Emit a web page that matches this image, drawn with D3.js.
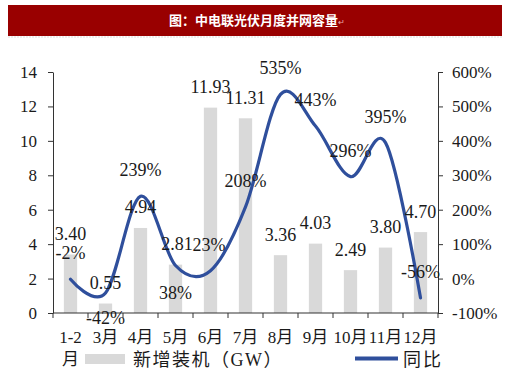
<!DOCTYPE html>
<html><head><meta charset="utf-8">
<script src="https://cdn.jsdelivr.net/npm/d3@7"></script>
<style>
html,body{margin:0;padding:0;background:#fff;}
svg{display:block;}
text{font-family:"Liberation Serif","Times New Roman","Noto Sans CJK SC",serif;fill:#1a1a1a;}
</style></head>
<body>
<svg id="chart" width="520" height="379"></svg>
<script>
const title = "图：中电联光伏月度并网容量";
const categories = ["1-2月","3月","4月","5月","6月","7月","8月","9月","10月","11月","12月"];
const capacity = [3.40,0.55,4.94,2.81,11.93,11.31,3.36,4.03,2.49,3.80,4.70];
const yoy = [-2,-42,239,38,23,208,535,443,296,395,-56];
const leftTicks = [0,2,4,6,8,10,12,14];
const rightTicks = [-100,0,100,200,300,400,500,600];
const seriesNames = ["新增装机（GW）","同比"];

const svg = d3.select("#chart");
const m = {left:53, right:438, top:72, bottom:313};

// title bar
svg.append("rect").attr("x",8).attr("y",5).attr("width",494).attr("height",31).attr("fill","#990000");
svg.append("line").attr("x1",8).attr("x2",502).attr("y1",37).attr("y2",37)
  .attr("stroke","#ddd").attr("stroke-dasharray","2,1");
const tt = svg.append("text").attr("x",257).attr("y",25).attr("text-anchor","middle")
  .style("font-family","'Noto Sans CJK SC',sans-serif").style("font-size","13px").style("font-weight","bold")
  .style("fill","#fff").text(title);
tt.append("tspan").style("font-size","8px").style("font-weight","normal").style("fill","#e8b0b0").text("↵");

const x = d3.scaleBand().domain(categories).range([m.left, m.right]).paddingInner(0.62).paddingOuter(0.31);
const yL = d3.scaleLinear().domain([0,14]).range([m.bottom, m.top]);
const yR = d3.scaleLinear().domain([-100,600]).range([m.bottom, m.top]);
const cx = c => x(c) + x.bandwidth()/2;

// bars
svg.append("g").selectAll("rect").data(categories).join("rect")
  .attr("x", c => x(c)).attr("width", x.bandwidth())
  .attr("y", (c,i) => yL(capacity[i])).attr("height", (c,i) => yL(0) - yL(capacity[i]))
  .attr("fill","#d9d9d9");

// left axis
const axL = svg.append("g").attr("transform",`translate(${m.left},0)`)
  .call(d3.axisLeft(yL).tickValues(leftTicks).tickSize(5).tickPadding(11).tickSizeOuter(0));
axL.selectAll("text").style("font-size","17px").style("font-family","'Liberation Serif',serif").attr("fill","#1a1a1a");
axL.selectAll("line,path").attr("stroke","#333");

// right axis
const axR = svg.append("g").attr("transform",`translate(${m.right},0)`)
  .call(d3.axisRight(yR).tickValues(rightTicks).tickFormat(d => d + "%").tickSize(5).tickPadding(9).tickSizeOuter(0));
axR.selectAll("text").style("font-size","17px").style("font-family","'Liberation Serif',serif").attr("fill","#1a1a1a");
axR.selectAll("line,path").attr("stroke","#333");

// x axis
const gx = svg.append("g");
gx.append("line").attr("x1",m.left).attr("x2",m.right).attr("y1",m.bottom).attr("y2",m.bottom).attr("stroke","#333").attr("stroke-width",1.2);
const step = x.step();
const bounds = categories.map(c => cx(c) - step/2).concat([cx(categories[categories.length-1]) + step/2]);
gx.selectAll("line.tk").data(bounds).join("line").attr("class","tk")
  .attr("x1",d=>d).attr("x2",d=>d).attr("y1",m.bottom).attr("y2",m.bottom+5).attr("stroke","#333");
const xl = gx.selectAll("text.xl").data(categories).join("text").attr("class","xl")
  .attr("x", c => cx(c)).attr("y", 343).attr("text-anchor","middle").style("font-size","17px");
xl.each(function(c){
  const t = d3.select(this);
  t.text(c);
  if (this.getComputedTextLength() > step) {
    t.text(null);
    t.append("tspan").attr("x", cx(c)).attr("dy",0).text(c.slice(0,-1));
    t.append("tspan").attr("x", cx(c)).attr("dy",22).text(c.slice(-1));
  }
});

// line
const line = d3.line().x((d,i) => cx(categories[i])).y(d => yR(d)).curve(d3.curveCardinal.tension(0));
svg.append("path").datum(yoy).attr("d", line).attr("fill","none").attr("stroke","#2f4f9c").attr("stroke-width",3.2).attr("stroke-linecap","round");

// bar labels
svg.append("g").selectAll("text").data(categories).join("text")
  .attr("x", c => cx(c) + (c === "5月" ? 1.5 : 0)).attr("y", (c,i) => yL(capacity[i]) - 14.5)
  .attr("text-anchor","middle").style("font-size","18px")
  .text((c,i) => capacity[i].toFixed(2));

// yoy labels
const below = new Set(["3月","5月"]);
svg.append("g").selectAll("text").data(categories).join("text")
  .attr("x", c => cx(c) - (c === "6月" ? 1.5 : 0)).attr("y", (c,i) => yR(yoy[i]) + (below.has(c) ? (c === "3月" ? 31 : 34) : -20))
  .attr("text-anchor","middle").style("font-size","18px")
  .text((c,i) => yoy[i] + "%");

// legend
const lg = svg.append("g");
lg.append("rect").attr("x",85).attr("y",354).attr("width",40).attr("height",10).attr("fill","#d9d9d9");
lg.append("text").attr("x",133).attr("y",366).style("font-size","18px").style("letter-spacing","1.5px").text(seriesNames[0]);
lg.append("line").attr("x1",355).attr("x2",398).attr("y1",358.5).attr("y2",358.5).attr("stroke","#2f4f9c").attr("stroke-width",4);
lg.append("text").attr("x",403).attr("y",366).style("font-size","18px").style("letter-spacing","2px").text(seriesNames[1]);
</script>
</body></html>
